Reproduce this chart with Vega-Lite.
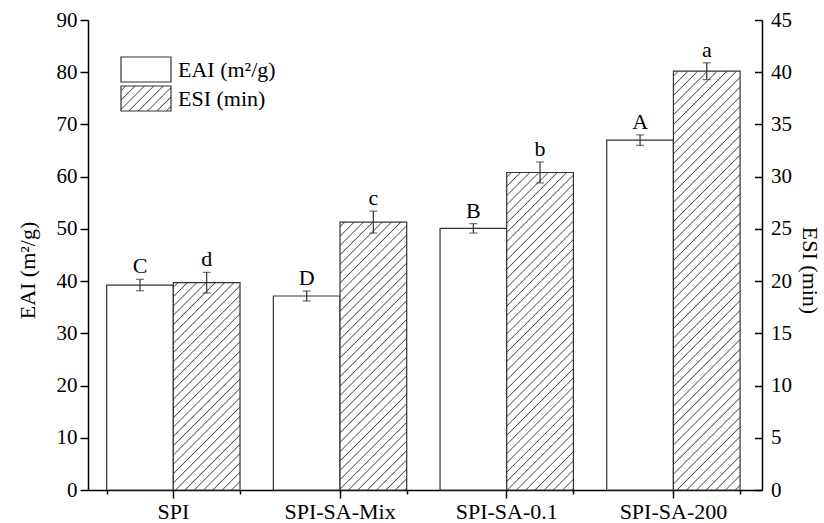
{
"$schema": "https://vega.github.io/schema/vega-lite/v6.json",
"width": 674, "height": 470, "autosize": "none",
"padding": {"left": 88, "top": 20, "right": 62, "bottom": 33},
"background": "#ffffff",
"config": {
  "font": "Liberation Serif",
  "view": {"stroke": null},
  "axis": {"grid": false, "domainColor": "#000", "tickColor": "#000", "labelColor": "#000", "titleColor": "#000", "domainWidth": 1.5, "tickWidth": 1.5, "labelFontSize": 21, "titleFontSize": 22, "titleFontWeight": "normal", "labelFont": "Liberation Serif", "titleFont": "Liberation Serif"}
},
"data": {"values": [
  {"cat": "SPI", "key": "EAI", "series": "EAI (m²/g)", "value": 39.25, "lo": 38.15, "hi": 40.35, "letter": "C"},
  {"cat": "SPI-SA-Mix", "key": "EAI", "series": "EAI (m²/g)", "value": 37.15, "lo": 36.2, "hi": 38.1, "letter": "D"},
  {"cat": "SPI-SA-0.1", "key": "EAI", "series": "EAI (m²/g)", "value": 50.1, "lo": 49.2, "hi": 51.0, "letter": "B"},
  {"cat": "SPI-SA-200", "key": "EAI", "series": "EAI (m²/g)", "value": 67.0, "lo": 66.0, "hi": 68.0, "letter": "A"},
  {"cat": "SPI", "key": "ESI", "series": "ESI (min)", "value": 19.85, "lo": 18.86, "hi": 20.84, "letter": "d"},
  {"cat": "SPI-SA-Mix", "key": "ESI", "series": "ESI (min)", "value": 25.65, "lo": 24.6, "hi": 26.7, "letter": "c"},
  {"cat": "SPI-SA-0.1", "key": "ESI", "series": "ESI (min)", "value": 30.4, "lo": 29.4, "hi": 31.4, "letter": "b"},
  {"cat": "SPI-SA-200", "key": "ESI", "series": "ESI (min)", "value": 40.1, "lo": 39.3, "hi": 40.9, "letter": "a"}
]},
"encoding": {
  "x": {"field": "cat", "type": "nominal",
        "scale": {"domain": ["SPI", "SPI-SA-Mix", "SPI-SA-0.1", "SPI-SA-200"], "paddingInner": 0.2, "paddingOuter": 0.1217, "align": 0.46}},
  "xOffset": {"field": "series", "type": "nominal", "scale": {"domain": ["EAI (m²/g)", "ESI (min)"], "paddingInner": 0, "paddingOuter": 0}}
},
"layer": [
  {
    "transform": [{"filter": "datum.key === 'EAI'"}],
    "encoding": {
      "x": {"field": "cat", "type": "nominal",
            "axis": {"orient": "bottom", "title": null, "labelFontSize": 22, "labelAngle": 0, "tickSize": 8, "labelPadding": 3}}
    },
    "layer": [
      {
        "mark": {"type": "bar", "stroke": "#333", "strokeWidth": 1.2},
        "encoding": {
          "y": {"field": "value", "type": "quantitative",
                "scale": {"domain": [0, 90], "nice": false},
                "axis": {"orient": "left", "title": "EAI (m²/g)", "values": [0,5,10,15,20,25,30,35,40,45,50,55,60,65,70,75,80,85,90],
                         "labelExpr": "datum.value % 10 === 0 ? datum.label : ''",
                         "tickSize": {"condition": {"test": "datum.value % 10 === 0", "value": 8}, "value": 5},
                         "labelPadding": 3, "titlePadding": 17, "titleY": 250}},
          "fill": {"field": "series", "type": "nominal",
                   "scale": {"domain": ["EAI (m²/g)", "ESI (min)"],
                             "range": ["#ffffff",
                               {"expr": "{gradient: 'linear', x1: 0, y1: 0, x2: 1.2, y2: 0.6, stops: [{offset: 0.0465, color: '#fff'}, {offset: 0.0625, color: '#555'}, {offset: 0.0785, color: '#fff'}, {offset: 0.1715, color: '#fff'}, {offset: 0.1875, color: '#555'}, {offset: 0.2035, color: '#fff'}, {offset: 0.2965, color: '#fff'}, {offset: 0.3125, color: '#555'}, {offset: 0.3285, color: '#fff'}, {offset: 0.4215, color: '#fff'}, {offset: 0.4375, color: '#555'}, {offset: 0.4535, color: '#fff'}, {offset: 0.5465, color: '#fff'}, {offset: 0.5625, color: '#555'}, {offset: 0.5785, color: '#fff'}, {offset: 0.6715, color: '#fff'}, {offset: 0.6875, color: '#555'}, {offset: 0.7035, color: '#fff'}, {offset: 0.7965, color: '#fff'}, {offset: 0.8125, color: '#555'}, {offset: 0.8285, color: '#fff'}, {offset: 0.9215, color: '#fff'}, {offset: 0.9375, color: '#555'}, {offset: 0.9535, color: '#fff'}]}"}
                             ]},
                   "legend": {"orient": "none", "legendX": 32, "legendY": 36, "title": null,
                              "symbolType": "M-1,-1H3V1H-1Z", "symbolSize": 625,
                              "symbolStrokeColor": "#333", "symbolStrokeWidth": 1.2, "symbolOpacity": 1,
                              "labelFont": "Liberation Serif", "labelFontSize": 22, "labelColor": "#000",
                              "labelOffset": 31, "rowPadding": -3, "padding": 0}}
        }
      },
      {
        "mark": {"type": "rule", "stroke": "#333", "strokeWidth": 1.2},
        "encoding": {"y": {"field": "lo", "type": "quantitative"}, "y2": {"field": "hi"}}
      },
      {
        "mark": {"type": "tick", "orient": "horizontal", "color": "#333", "size": 8, "thickness": 1.2},
        "encoding": {"y": {"field": "lo", "type": "quantitative"}}
      },
      {
        "mark": {"type": "tick", "orient": "horizontal", "color": "#333", "size": 8, "thickness": 1.2},
        "encoding": {"y": {"field": "hi", "type": "quantitative"}}
      },
      {
        "mark": {"type": "text", "font": "Liberation Serif", "fontSize": 22, "color": "#000", "baseline": "alphabetic", "dy": -6},
        "encoding": {"y": {"field": "hi", "type": "quantitative"}, "text": {"field": "letter"}}
      }
    ]
  },
  {
    "transform": [{"filter": "datum.key === 'ESI'"}],
    "encoding": {
      "x": {"field": "cat", "type": "nominal",
            "axis": {"orient": "bottom", "title": null, "labels": false, "domain": false, "tickBand": "extent", "tickSize": 4}}
    },
    "layer": [
      {
        "mark": {"type": "bar", "stroke": "#333", "strokeWidth": 1.2},
        "encoding": {
          "y": {"field": "value", "type": "quantitative",
                "scale": {"domain": [0, 45], "nice": false},
                "axis": {"orient": "right", "title": "ESI (min)", "values": [0,2.5,5,7.5,10,12.5,15,17.5,20,22.5,25,27.5,30,32.5,35,37.5,40,42.5,45],
                         "labelExpr": "datum.value % 5 === 0 ? datum.label : ''",
                         "tickSize": {"condition": {"test": "datum.value % 5 === 0", "value": -7.5}, "value": -5},
                         "labelPadding": 16, "titlePadding": 6, "titleY": 250}},
          "fill": {
            "condition": [
              {"test": "datum.cat === 'SPI'", "value": {"gradient": "linear", "x1": 0, "y1": 0, "x2": 0.3852, "y2": 1.1977, "stops": [
                {"offset":0.0126,"color":"#fff"},{"offset":0.017,"color":"#555"},{"offset":0.0214,"color":"#fff"},
                {"offset":0.0466,"color":"#fff"},{"offset":0.051,"color":"#555"},{"offset":0.0554,"color":"#fff"},
                {"offset":0.0806,"color":"#fff"},{"offset":0.085,"color":"#555"},{"offset":0.0894,"color":"#fff"},
                {"offset":0.1146,"color":"#fff"},{"offset":0.119,"color":"#555"},{"offset":0.1234,"color":"#fff"},
                {"offset":0.1486,"color":"#fff"},{"offset":0.153,"color":"#555"},{"offset":0.1574,"color":"#fff"},
                {"offset":0.1826,"color":"#fff"},{"offset":0.187,"color":"#555"},{"offset":0.1914,"color":"#fff"},
                {"offset":0.2166,"color":"#fff"},{"offset":0.221,"color":"#555"},{"offset":0.2254,"color":"#fff"},
                {"offset":0.2506,"color":"#fff"},{"offset":0.255,"color":"#555"},{"offset":0.2594,"color":"#fff"},
                {"offset":0.2846,"color":"#fff"},{"offset":0.289,"color":"#555"},{"offset":0.2934,"color":"#fff"},
                {"offset":0.3186,"color":"#fff"},{"offset":0.323,"color":"#555"},{"offset":0.3274,"color":"#fff"},
                {"offset":0.3526,"color":"#fff"},{"offset":0.357,"color":"#555"},{"offset":0.3614,"color":"#fff"},
                {"offset":0.3866,"color":"#fff"},{"offset":0.391,"color":"#555"},{"offset":0.3954,"color":"#fff"},
                {"offset":0.4206,"color":"#fff"},{"offset":0.425,"color":"#555"},{"offset":0.4294,"color":"#fff"},
                {"offset":0.4546,"color":"#fff"},{"offset":0.459,"color":"#555"},{"offset":0.4634,"color":"#fff"},
                {"offset":0.4886,"color":"#fff"},{"offset":0.493,"color":"#555"},{"offset":0.4974,"color":"#fff"},
                {"offset":0.5226,"color":"#fff"},{"offset":0.527,"color":"#555"},{"offset":0.5314,"color":"#fff"},
                {"offset":0.5566,"color":"#fff"},{"offset":0.561,"color":"#555"},{"offset":0.5654,"color":"#fff"},
                {"offset":0.5906,"color":"#fff"},{"offset":0.595,"color":"#555"},{"offset":0.5994,"color":"#fff"},
                {"offset":0.6246,"color":"#fff"},{"offset":0.629,"color":"#555"},{"offset":0.6334,"color":"#fff"},
                {"offset":0.6586,"color":"#fff"},{"offset":0.663,"color":"#555"},{"offset":0.6674,"color":"#fff"},
                {"offset":0.6926,"color":"#fff"},{"offset":0.697,"color":"#555"},{"offset":0.7014,"color":"#fff"},
                {"offset":0.7266,"color":"#fff"},{"offset":0.731,"color":"#555"},{"offset":0.7354,"color":"#fff"},
                {"offset":0.7606,"color":"#fff"},{"offset":0.765,"color":"#555"},{"offset":0.7694,"color":"#fff"},
                {"offset":0.7946,"color":"#fff"},{"offset":0.799,"color":"#555"},{"offset":0.8034,"color":"#fff"},
                {"offset":0.8286,"color":"#fff"},{"offset":0.833,"color":"#555"},{"offset":0.8374,"color":"#fff"},
                {"offset":0.8626,"color":"#fff"},{"offset":0.867,"color":"#555"},{"offset":0.8714,"color":"#fff"},
                {"offset":0.8966,"color":"#fff"},{"offset":0.901,"color":"#555"},{"offset":0.9054,"color":"#fff"},
                {"offset":0.9306,"color":"#fff"},{"offset":0.935,"color":"#555"},{"offset":0.9394,"color":"#fff"},
                {"offset":0.9646,"color":"#fff"},{"offset":0.969,"color":"#555"},{"offset":0.9734,"color":"#fff"}
              ]}},
              {"test": "datum.cat === 'SPI-SA-Mix'", "value": {"gradient": "linear", "x1": 0, "y1": 0, "x2": 0.2927, "y2": 1.176, "stops": [
                {"offset":0.0104,"color":"#fff"},{"offset":0.014,"color":"#555"},{"offset":0.0176,"color":"#fff"},
                {"offset":0.0384,"color":"#fff"},{"offset":0.042,"color":"#555"},{"offset":0.0456,"color":"#fff"},
                {"offset":0.0664,"color":"#fff"},{"offset":0.070,"color":"#555"},{"offset":0.0736,"color":"#fff"},
                {"offset":0.0944,"color":"#fff"},{"offset":0.098,"color":"#555"},{"offset":0.1016,"color":"#fff"},
                {"offset":0.1224,"color":"#fff"},{"offset":0.126,"color":"#555"},{"offset":0.1296,"color":"#fff"},
                {"offset":0.1504,"color":"#fff"},{"offset":0.154,"color":"#555"},{"offset":0.1576,"color":"#fff"},
                {"offset":0.1784,"color":"#fff"},{"offset":0.182,"color":"#555"},{"offset":0.1856,"color":"#fff"},
                {"offset":0.2064,"color":"#fff"},{"offset":0.210,"color":"#555"},{"offset":0.2136,"color":"#fff"},
                {"offset":0.2344,"color":"#fff"},{"offset":0.238,"color":"#555"},{"offset":0.2416,"color":"#fff"},
                {"offset":0.2624,"color":"#fff"},{"offset":0.266,"color":"#555"},{"offset":0.2696,"color":"#fff"},
                {"offset":0.2904,"color":"#fff"},{"offset":0.294,"color":"#555"},{"offset":0.2976,"color":"#fff"},
                {"offset":0.3184,"color":"#fff"},{"offset":0.322,"color":"#555"},{"offset":0.3256,"color":"#fff"},
                {"offset":0.3464,"color":"#fff"},{"offset":0.350,"color":"#555"},{"offset":0.3536,"color":"#fff"},
                {"offset":0.3744,"color":"#fff"},{"offset":0.378,"color":"#555"},{"offset":0.3816,"color":"#fff"},
                {"offset":0.4024,"color":"#fff"},{"offset":0.406,"color":"#555"},{"offset":0.4096,"color":"#fff"},
                {"offset":0.4304,"color":"#fff"},{"offset":0.434,"color":"#555"},{"offset":0.4376,"color":"#fff"},
                {"offset":0.4584,"color":"#fff"},{"offset":0.462,"color":"#555"},{"offset":0.4656,"color":"#fff"},
                {"offset":0.4864,"color":"#fff"},{"offset":0.490,"color":"#555"},{"offset":0.4936,"color":"#fff"},
                {"offset":0.5144,"color":"#fff"},{"offset":0.518,"color":"#555"},{"offset":0.5216,"color":"#fff"},
                {"offset":0.5424,"color":"#fff"},{"offset":0.546,"color":"#555"},{"offset":0.5496,"color":"#fff"},
                {"offset":0.5704,"color":"#fff"},{"offset":0.574,"color":"#555"},{"offset":0.5776,"color":"#fff"},
                {"offset":0.5984,"color":"#fff"},{"offset":0.602,"color":"#555"},{"offset":0.6056,"color":"#fff"},
                {"offset":0.6264,"color":"#fff"},{"offset":0.630,"color":"#555"},{"offset":0.6336,"color":"#fff"},
                {"offset":0.6544,"color":"#fff"},{"offset":0.658,"color":"#555"},{"offset":0.6616,"color":"#fff"},
                {"offset":0.6824,"color":"#fff"},{"offset":0.686,"color":"#555"},{"offset":0.6896,"color":"#fff"},
                {"offset":0.7104,"color":"#fff"},{"offset":0.714,"color":"#555"},{"offset":0.7176,"color":"#fff"},
                {"offset":0.7384,"color":"#fff"},{"offset":0.742,"color":"#555"},{"offset":0.7456,"color":"#fff"},
                {"offset":0.7664,"color":"#fff"},{"offset":0.770,"color":"#555"},{"offset":0.7736,"color":"#fff"},
                {"offset":0.7944,"color":"#fff"},{"offset":0.798,"color":"#555"},{"offset":0.8016,"color":"#fff"},
                {"offset":0.8224,"color":"#fff"},{"offset":0.826,"color":"#555"},{"offset":0.8296,"color":"#fff"},
                {"offset":0.8504,"color":"#fff"},{"offset":0.854,"color":"#555"},{"offset":0.8576,"color":"#fff"},
                {"offset":0.8784,"color":"#fff"},{"offset":0.882,"color":"#555"},{"offset":0.8856,"color":"#fff"},
                {"offset":0.9064,"color":"#fff"},{"offset":0.910,"color":"#555"},{"offset":0.9136,"color":"#fff"},
                {"offset":0.9344,"color":"#fff"},{"offset":0.938,"color":"#555"},{"offset":0.9416,"color":"#fff"},
                {"offset":0.9624,"color":"#fff"},{"offset":0.966,"color":"#555"},{"offset":0.9696,"color":"#fff"},
                {"offset":0.9904,"color":"#fff"},{"offset":0.994,"color":"#555"},{"offset":0.9976,"color":"#fff"}
              ]}},
              {"test": "datum.cat === 'SPI-SA-0.1'", "value": {"gradient": "linear", "x1": 0, "y1": 0, "x2": 0.2434, "y2": 1.1589, "stops": [
                {"offset":0.009,"color":"#fff"},{"offset":0.012,"color":"#555"},{"offset":0.015,"color":"#fff"},
                {"offset":0.033,"color":"#fff"},{"offset":0.036,"color":"#555"},{"offset":0.039,"color":"#fff"},
                {"offset":0.057,"color":"#fff"},{"offset":0.060,"color":"#555"},{"offset":0.063,"color":"#fff"},
                {"offset":0.081,"color":"#fff"},{"offset":0.084,"color":"#555"},{"offset":0.087,"color":"#fff"},
                {"offset":0.105,"color":"#fff"},{"offset":0.108,"color":"#555"},{"offset":0.111,"color":"#fff"},
                {"offset":0.129,"color":"#fff"},{"offset":0.132,"color":"#555"},{"offset":0.135,"color":"#fff"},
                {"offset":0.153,"color":"#fff"},{"offset":0.156,"color":"#555"},{"offset":0.159,"color":"#fff"},
                {"offset":0.177,"color":"#fff"},{"offset":0.180,"color":"#555"},{"offset":0.183,"color":"#fff"},
                {"offset":0.201,"color":"#fff"},{"offset":0.204,"color":"#555"},{"offset":0.207,"color":"#fff"},
                {"offset":0.225,"color":"#fff"},{"offset":0.228,"color":"#555"},{"offset":0.231,"color":"#fff"},
                {"offset":0.249,"color":"#fff"},{"offset":0.252,"color":"#555"},{"offset":0.255,"color":"#fff"},
                {"offset":0.273,"color":"#fff"},{"offset":0.276,"color":"#555"},{"offset":0.279,"color":"#fff"},
                {"offset":0.297,"color":"#fff"},{"offset":0.300,"color":"#555"},{"offset":0.303,"color":"#fff"},
                {"offset":0.321,"color":"#fff"},{"offset":0.324,"color":"#555"},{"offset":0.327,"color":"#fff"},
                {"offset":0.345,"color":"#fff"},{"offset":0.348,"color":"#555"},{"offset":0.351,"color":"#fff"},
                {"offset":0.369,"color":"#fff"},{"offset":0.372,"color":"#555"},{"offset":0.375,"color":"#fff"},
                {"offset":0.393,"color":"#fff"},{"offset":0.396,"color":"#555"},{"offset":0.399,"color":"#fff"},
                {"offset":0.417,"color":"#fff"},{"offset":0.420,"color":"#555"},{"offset":0.423,"color":"#fff"},
                {"offset":0.441,"color":"#fff"},{"offset":0.444,"color":"#555"},{"offset":0.447,"color":"#fff"},
                {"offset":0.465,"color":"#fff"},{"offset":0.468,"color":"#555"},{"offset":0.471,"color":"#fff"},
                {"offset":0.489,"color":"#fff"},{"offset":0.492,"color":"#555"},{"offset":0.495,"color":"#fff"},
                {"offset":0.513,"color":"#fff"},{"offset":0.516,"color":"#555"},{"offset":0.519,"color":"#fff"},
                {"offset":0.537,"color":"#fff"},{"offset":0.540,"color":"#555"},{"offset":0.543,"color":"#fff"},
                {"offset":0.561,"color":"#fff"},{"offset":0.564,"color":"#555"},{"offset":0.567,"color":"#fff"},
                {"offset":0.585,"color":"#fff"},{"offset":0.588,"color":"#555"},{"offset":0.591,"color":"#fff"},
                {"offset":0.609,"color":"#fff"},{"offset":0.612,"color":"#555"},{"offset":0.615,"color":"#fff"},
                {"offset":0.633,"color":"#fff"},{"offset":0.636,"color":"#555"},{"offset":0.639,"color":"#fff"},
                {"offset":0.657,"color":"#fff"},{"offset":0.660,"color":"#555"},{"offset":0.663,"color":"#fff"},
                {"offset":0.681,"color":"#fff"},{"offset":0.684,"color":"#555"},{"offset":0.687,"color":"#fff"},
                {"offset":0.705,"color":"#fff"},{"offset":0.708,"color":"#555"},{"offset":0.711,"color":"#fff"},
                {"offset":0.729,"color":"#fff"},{"offset":0.732,"color":"#555"},{"offset":0.735,"color":"#fff"},
                {"offset":0.753,"color":"#fff"},{"offset":0.756,"color":"#555"},{"offset":0.759,"color":"#fff"},
                {"offset":0.777,"color":"#fff"},{"offset":0.780,"color":"#555"},{"offset":0.783,"color":"#fff"},
                {"offset":0.801,"color":"#fff"},{"offset":0.804,"color":"#555"},{"offset":0.807,"color":"#fff"},
                {"offset":0.825,"color":"#fff"},{"offset":0.828,"color":"#555"},{"offset":0.831,"color":"#fff"},
                {"offset":0.849,"color":"#fff"},{"offset":0.852,"color":"#555"},{"offset":0.855,"color":"#fff"},
                {"offset":0.873,"color":"#fff"},{"offset":0.876,"color":"#555"},{"offset":0.879,"color":"#fff"},
                {"offset":0.897,"color":"#fff"},{"offset":0.900,"color":"#555"},{"offset":0.903,"color":"#fff"},
                {"offset":0.921,"color":"#fff"},{"offset":0.924,"color":"#555"},{"offset":0.927,"color":"#fff"},
                {"offset":0.945,"color":"#fff"},{"offset":0.948,"color":"#555"},{"offset":0.951,"color":"#fff"},
                {"offset":0.969,"color":"#fff"},{"offset":0.972,"color":"#555"},{"offset":0.975,"color":"#fff"},
                {"offset":0.993,"color":"#fff"},{"offset":0.996,"color":"#555"},{"offset":0.999,"color":"#fff"}
              ]}}
            ],
            "value": {"gradient": "linear", "x1": 0, "y1": 0, "x2": 0.18, "y2": 1.1306, "stops": [
              {"offset":0.0075,"color":"#fff"},{"offset":0.01,"color":"#555"},{"offset":0.0125,"color":"#fff"},
              {"offset":0.0275,"color":"#fff"},{"offset":0.03,"color":"#555"},{"offset":0.0325,"color":"#fff"},
              {"offset":0.0475,"color":"#fff"},{"offset":0.05,"color":"#555"},{"offset":0.0525,"color":"#fff"},
              {"offset":0.0675,"color":"#fff"},{"offset":0.07,"color":"#555"},{"offset":0.0725,"color":"#fff"},
              {"offset":0.0875,"color":"#fff"},{"offset":0.09,"color":"#555"},{"offset":0.0925,"color":"#fff"},
              {"offset":0.1075,"color":"#fff"},{"offset":0.11,"color":"#555"},{"offset":0.1125,"color":"#fff"},
              {"offset":0.1275,"color":"#fff"},{"offset":0.13,"color":"#555"},{"offset":0.1325,"color":"#fff"},
              {"offset":0.1475,"color":"#fff"},{"offset":0.15,"color":"#555"},{"offset":0.1525,"color":"#fff"},
              {"offset":0.1675,"color":"#fff"},{"offset":0.17,"color":"#555"},{"offset":0.1725,"color":"#fff"},
              {"offset":0.1875,"color":"#fff"},{"offset":0.19,"color":"#555"},{"offset":0.1925,"color":"#fff"},
              {"offset":0.2075,"color":"#fff"},{"offset":0.21,"color":"#555"},{"offset":0.2125,"color":"#fff"},
              {"offset":0.2275,"color":"#fff"},{"offset":0.23,"color":"#555"},{"offset":0.2325,"color":"#fff"},
              {"offset":0.2475,"color":"#fff"},{"offset":0.25,"color":"#555"},{"offset":0.2525,"color":"#fff"},
              {"offset":0.2675,"color":"#fff"},{"offset":0.27,"color":"#555"},{"offset":0.2725,"color":"#fff"},
              {"offset":0.2875,"color":"#fff"},{"offset":0.29,"color":"#555"},{"offset":0.2925,"color":"#fff"},
              {"offset":0.3075,"color":"#fff"},{"offset":0.31,"color":"#555"},{"offset":0.3125,"color":"#fff"},
              {"offset":0.3275,"color":"#fff"},{"offset":0.33,"color":"#555"},{"offset":0.3325,"color":"#fff"},
              {"offset":0.3475,"color":"#fff"},{"offset":0.35,"color":"#555"},{"offset":0.3525,"color":"#fff"},
              {"offset":0.3675,"color":"#fff"},{"offset":0.37,"color":"#555"},{"offset":0.3725,"color":"#fff"},
              {"offset":0.3875,"color":"#fff"},{"offset":0.39,"color":"#555"},{"offset":0.3925,"color":"#fff"},
              {"offset":0.4075,"color":"#fff"},{"offset":0.41,"color":"#555"},{"offset":0.4125,"color":"#fff"},
              {"offset":0.4275,"color":"#fff"},{"offset":0.43,"color":"#555"},{"offset":0.4325,"color":"#fff"},
              {"offset":0.4475,"color":"#fff"},{"offset":0.45,"color":"#555"},{"offset":0.4525,"color":"#fff"},
              {"offset":0.4675,"color":"#fff"},{"offset":0.47,"color":"#555"},{"offset":0.4725,"color":"#fff"},
              {"offset":0.4875,"color":"#fff"},{"offset":0.49,"color":"#555"},{"offset":0.4925,"color":"#fff"},
              {"offset":0.5075,"color":"#fff"},{"offset":0.51,"color":"#555"},{"offset":0.5125,"color":"#fff"},
              {"offset":0.5275,"color":"#fff"},{"offset":0.53,"color":"#555"},{"offset":0.5325,"color":"#fff"},
              {"offset":0.5475,"color":"#fff"},{"offset":0.55,"color":"#555"},{"offset":0.5525,"color":"#fff"},
              {"offset":0.5675,"color":"#fff"},{"offset":0.57,"color":"#555"},{"offset":0.5725,"color":"#fff"},
              {"offset":0.5875,"color":"#fff"},{"offset":0.59,"color":"#555"},{"offset":0.5925,"color":"#fff"},
              {"offset":0.6075,"color":"#fff"},{"offset":0.61,"color":"#555"},{"offset":0.6125,"color":"#fff"},
              {"offset":0.6275,"color":"#fff"},{"offset":0.63,"color":"#555"},{"offset":0.6325,"color":"#fff"},
              {"offset":0.6475,"color":"#fff"},{"offset":0.65,"color":"#555"},{"offset":0.6525,"color":"#fff"},
              {"offset":0.6675,"color":"#fff"},{"offset":0.67,"color":"#555"},{"offset":0.6725,"color":"#fff"},
              {"offset":0.6875,"color":"#fff"},{"offset":0.69,"color":"#555"},{"offset":0.6925,"color":"#fff"},
              {"offset":0.7075,"color":"#fff"},{"offset":0.71,"color":"#555"},{"offset":0.7125,"color":"#fff"},
              {"offset":0.7275,"color":"#fff"},{"offset":0.73,"color":"#555"},{"offset":0.7325,"color":"#fff"},
              {"offset":0.7475,"color":"#fff"},{"offset":0.75,"color":"#555"},{"offset":0.7525,"color":"#fff"},
              {"offset":0.7675,"color":"#fff"},{"offset":0.77,"color":"#555"},{"offset":0.7725,"color":"#fff"},
              {"offset":0.7875,"color":"#fff"},{"offset":0.79,"color":"#555"},{"offset":0.7925,"color":"#fff"},
              {"offset":0.8075,"color":"#fff"},{"offset":0.81,"color":"#555"},{"offset":0.8125,"color":"#fff"},
              {"offset":0.8275,"color":"#fff"},{"offset":0.83,"color":"#555"},{"offset":0.8325,"color":"#fff"},
              {"offset":0.8475,"color":"#fff"},{"offset":0.85,"color":"#555"},{"offset":0.8525,"color":"#fff"},
              {"offset":0.8675,"color":"#fff"},{"offset":0.87,"color":"#555"},{"offset":0.8725,"color":"#fff"},
              {"offset":0.8875,"color":"#fff"},{"offset":0.89,"color":"#555"},{"offset":0.8925,"color":"#fff"},
              {"offset":0.9075,"color":"#fff"},{"offset":0.91,"color":"#555"},{"offset":0.9125,"color":"#fff"},
              {"offset":0.9275,"color":"#fff"},{"offset":0.93,"color":"#555"},{"offset":0.9325,"color":"#fff"},
              {"offset":0.9475,"color":"#fff"},{"offset":0.95,"color":"#555"},{"offset":0.9525,"color":"#fff"},
              {"offset":0.9675,"color":"#fff"},{"offset":0.97,"color":"#555"},{"offset":0.9725,"color":"#fff"},
              {"offset":0.9875,"color":"#fff"},{"offset":0.99,"color":"#555"},{"offset":0.9925,"color":"#fff"}
            ]}
          }
        }
      },
      {
        "mark": {"type": "rule", "stroke": "#333", "strokeWidth": 1.2},
        "encoding": {"y": {"field": "lo", "type": "quantitative"}, "y2": {"field": "hi"}}
      },
      {
        "mark": {"type": "tick", "orient": "horizontal", "color": "#333", "size": 8, "thickness": 1.2},
        "encoding": {"y": {"field": "lo", "type": "quantitative"}}
      },
      {
        "mark": {"type": "tick", "orient": "horizontal", "color": "#333", "size": 8, "thickness": 1.2},
        "encoding": {"y": {"field": "hi", "type": "quantitative"}}
      },
      {
        "mark": {"type": "text", "font": "Liberation Serif", "fontSize": 22, "color": "#000", "baseline": "alphabetic", "dy": -6},
        "encoding": {"y": {"field": "hi", "type": "quantitative"}, "text": {"field": "letter"}}
      }
    ]
  }
],
"resolve": {"scale": {"y": "independent"}, "axis": {"x": "independent"}}
}
